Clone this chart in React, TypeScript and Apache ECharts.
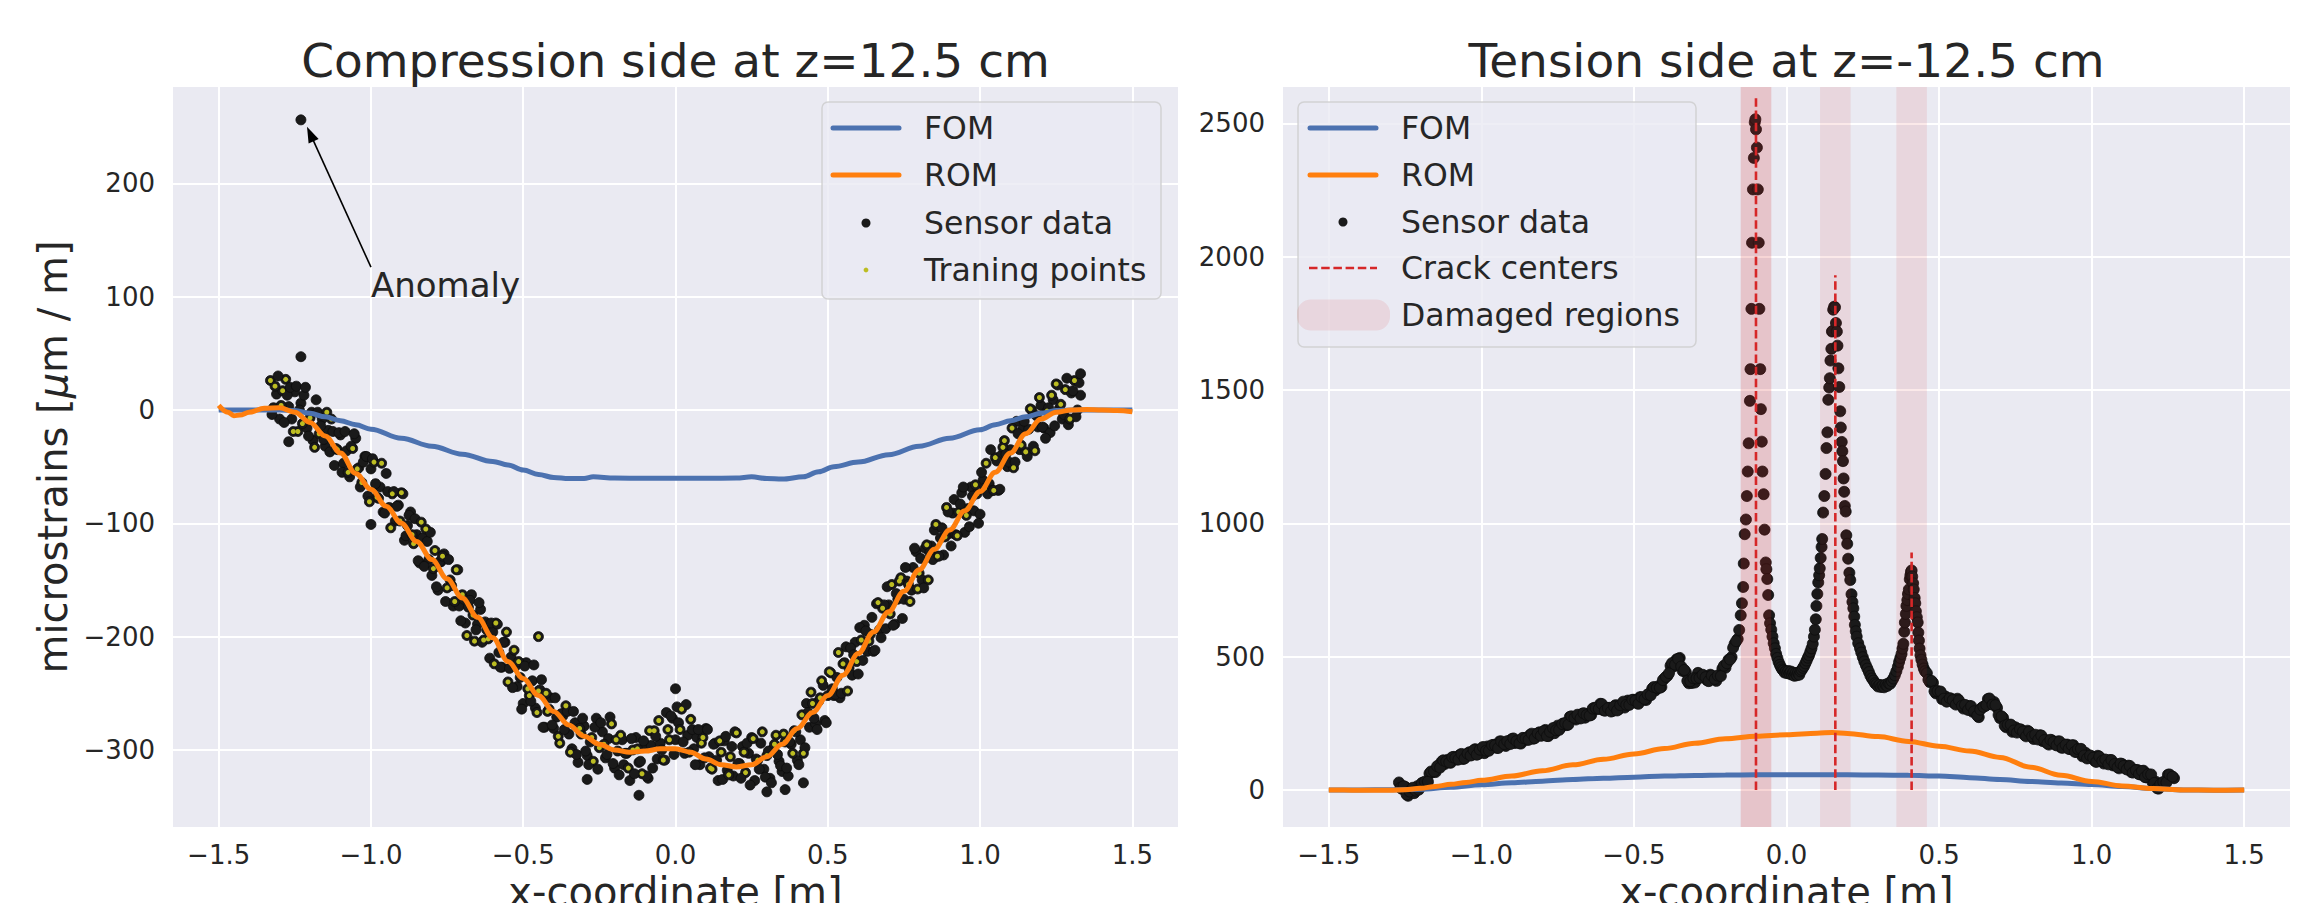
import React, { useEffect, useRef } from "react";
import * as echarts from "echarts";

type P = [number, number];

const W = 2314;
const H = 903;
const FONT = "DejaVu Sans";
const TEXT = "#262626";
const BLUE = "#4c72b0";
const ORANGE = "#ff7f0e";
const OLIVE = "#bcbd22";
const RED = "#d62728";
const DOT = "#1a1a1a";
const BG = "#eaeaf2";

// ---------------- texts ----------------
const titles = ["Compression side at z=12.5 cm", "Tension side at z=-12.5 cm"];
const xLabel = "x-coordinate [m]";
const yLabelParts = ["microstrains [", "\u03bc", "m / m]"];
const legendLeft = ["FOM", "ROM", "Sensor data", "Traning points"];
const legendRight = ["FOM", "ROM", "Sensor data", "Crack centers", "Damaged regions"];
const anomalyLabel = "Anomaly";

// ---------------- axes ----------------
const xRange = [-1.65, 1.65];
const leftYRange = [-368, 285];
const rightYRange = [-139, 2636];
const xTickStep = 0.5;
const leftYTickStep = 100;
const rightYTickStep = 500;

// ---------------- left panel (compression) ----------------
const leftFOM: P[] = [
  [-1.5, 0], [-1.4, 0], [-1.3, 0], [-1.25, -0.5], [-1.2, -3], [-1.15, -6], [-1.1, -9.5], [-1.05, -13],
  [-1.0, -17], [-0.9, -25], [-0.8, -32], [-0.7, -39], [-0.6, -45.5], [-0.55, -48.5], [-0.5, -53],
  [-0.45, -57], [-0.4, -59.5], [-0.35, -60.5], [-0.3, -60.5], [-0.27, -59], [-0.2, -60], [-0.1, -60.3],
  [0, -60.3], [0.1, -60.3], [0.2, -60], [0.25, -59], [0.3, -60.5], [0.35, -61], [0.42, -59], [0.47, -54.5],
  [0.52, -50], [0.6, -46], [0.7, -39.5], [0.8, -32], [0.9, -25], [1.0, -17.5], [1.05, -13], [1.1, -9.5],
  [1.15, -6], [1.2, -3], [1.25, -0.5], [1.3, 0], [1.4, 0], [1.5, 0],
];

const leftROM: P[] = [
  [-1.5, 4], [-1.47, -2], [-1.45, -5], [-1.43, -4.5], [-1.4, -2], [-1.35, 1.5], [-1.3, 2], [-1.25, -2],
  [-1.2, -11], [-1.15, -23], [-1.1, -38], [-1.05, -56], [-1.0, -70], [-0.95, -85], [-0.9, -100],
  [-0.85, -116], [-0.8, -132], [-0.75, -149], [-0.7, -166], [-0.65, -183], [-0.6, -201], [-0.55, -222],
  [-0.5, -237], [-0.45, -252], [-0.4, -266], [-0.35, -278], [-0.3, -288], [-0.25, -295], [-0.2, -300],
  [-0.15, -302], [-0.1, -301], [-0.05, -299], [0, -299], [0.05, -302], [0.1, -308], [0.15, -313],
  [0.2, -315], [0.25, -313], [0.3, -306], [0.35, -295], [0.4, -281], [0.45, -267], [0.5, -252],
  [0.55, -234], [0.6, -215], [0.65, -196], [0.7, -178], [0.75, -160], [0.8, -141], [0.85, -123],
  [0.9, -106], [0.95, -89], [1.0, -72], [1.05, -55], [1.1, -38], [1.15, -21], [1.2, -8], [1.25, -2],
  [1.3, 0], [1.35, 0.5], [1.4, 0], [1.45, -0.5], [1.5, -1.5],
];

// sensor readings, first pass of gauges
const leftSensorA: P[] = [
  [-1.33, 26], [-1.32, 2], [-1.31, 14], [-1.30, -8], [-1.29, 17], [-1.28, 27], [-1.27, 3], [-1.26, -8], [-1.25, 16], [-1.24, -19],
  [-1.23, 6], [-1.22, 13], [-1.21, -16], [-1.20, -7], [-1.19, -27], [-1.18, 9], [-1.17, -21], [-1.16, -8], [-1.15, -32], [-1.14, -18],
  [-1.13, -8], [-1.12, -49], [-1.11, -35], [-1.10, -22], [-1.09, -47], [-1.08, -36], [-1.07, -59], [-1.06, -34], [-1.05, -25], [-1.04, -51],
  [-1.03, -64], [-1.02, -41], [-1.01, -76], [-1.00, -52], [-0.99, -46], [-0.98, -77], [-0.97, -68], [-0.96, -90], [-0.95, -56], [-0.94, -86],
  [-0.93, -74], [-0.92, -98], [-0.91, -84], [-0.90, -73], [-0.89, -115], [-0.88, -102], [-0.87, -90], [-0.86, -118], [-0.85, -110], [-0.84, -135],
  [-0.83, -113], [-0.82, -105], [-0.81, -132], [-0.80, -146], [-0.79, -124], [-0.78, -159], [-0.77, -134], [-0.76, -127], [-0.75, -157], [-0.74, -150],
  [-0.73, -173], [-0.72, -141], [-0.71, -173], [-0.70, -163], [-0.69, -188], [-0.68, -174], [-0.67, -163], [-0.66, -204], [-0.65, -189], [-0.64, -176],
  [-0.63, -203], [-0.62, -194], [-0.61, -219], [-0.60, -196], [-0.59, -188], [-0.58, -214], [-0.57, -227], [-0.56, -205], [-0.55, -240], [-0.54, -218],
  [-0.53, -212], [-0.52, -244], [-0.51, -236], [-0.50, -259], [-0.49, -223], [-0.48, -252], [-0.47, -239], [-0.46, -263], [-0.45, -248], [-0.44, -238],
  [-0.43, -280], [-0.42, -266], [-0.41, -254], [-0.40, -281], [-0.39, -271], [-0.38, -294], [-0.37, -270], [-0.36, -261], [-0.35, -286], [-0.34, -299],
  [-0.33, -276], [-0.32, -311], [-0.31, -286], [-0.30, -279], [-0.29, -305], [-0.28, -293], [-0.27, -310], [-0.26, -272], [-0.25, -298], [-0.24, -284],
  [-0.23, -307], [-0.22, -290], [-0.21, -277], [-0.20, -316], [-0.19, -301], [-0.18, -287], [-0.17, -313], [-0.16, -303], [-0.15, -327], [-0.14, -300],
  [-0.13, -289], [-0.12, -311], [-0.11, -321], [-0.10, -295], [-0.09, -325], [-0.08, -296], [-0.07, -283], [-0.06, -308], [-0.05, -294], [-0.04, -309],
  [-0.03, -267], [-0.02, -291], [-0.01, -272], [0.00, -291], [0.01, -276], [0.02, -264], [0.03, -303], [0.04, -287], [0.05, -273], [0.06, -299],
  [0.07, -289], [0.08, -313], [0.09, -289], [0.10, -281], [0.11, -306], [0.12, -317], [0.13, -294], [0.14, -327], [0.15, -302], [0.16, -292],
  [0.17, -318], [0.18, -306], [0.19, -323], [0.20, -285], [0.21, -312], [0.22, -297], [0.23, -320], [0.24, -303], [0.25, -289], [0.26, -327],
  [0.27, -309], [0.28, -294], [0.29, -317], [0.30, -305], [0.31, -325], [0.32, -299], [0.33, -287], [0.34, -310], [0.35, -319], [0.36, -293],
  [0.37, -323], [0.38, -295], [0.39, -283], [0.40, -309], [0.41, -291], [0.42, -303], [0.43, -259], [0.44, -280], [0.45, -259], [0.46, -277],
  [0.47, -257], [0.48, -239], [0.49, -274], [0.50, -252], [0.51, -232], [0.52, -252], [0.53, -236], [0.54, -254], [0.55, -224], [0.56, -209],
  [0.57, -228], [0.58, -234], [0.59, -205], [0.60, -233], [0.61, -203], [0.62, -190], [0.63, -213], [0.64, -198], [0.65, -213], [0.66, -171],
  [0.67, -194], [0.68, -175], [0.69, -193], [0.70, -172], [0.71, -154], [0.72, -189], [0.73, -167], [0.74, -148], [0.75, -167], [0.76, -151],
  [0.77, -169], [0.78, -139], [0.79, -125], [0.80, -144], [0.81, -150], [0.82, -122], [0.83, -150], [0.84, -120], [0.85, -106], [0.86, -129],
  [0.87, -113], [0.88, -128], [0.89, -86], [0.90, -109], [0.91, -91], [0.92, -110], [0.93, -90], [0.94, -73], [0.95, -108], [0.96, -87],
  [0.97, -68], [0.98, -89], [0.99, -74], [1.00, -92], [1.01, -62], [1.02, -47], [1.03, -65], [1.04, -71], [1.05, -42], [1.06, -71],
  [1.07, -40], [1.08, -27], [1.09, -50], [1.10, -35], [1.11, -51], [1.12, -10], [1.13, -35], [1.14, -17], [1.15, -37], [1.16, -17],
  [1.17, 0], [1.18, -36], [1.19, -15], [1.20, 4], [1.21, -16], [1.22, -1], [1.23, -20], [1.24, 9], [1.25, 23], [1.26, 1],
  [1.27, -8], [1.28, 18], [1.29, -13], [1.30, 15], [1.31, 26], [1.32, 0], [1.33, 13],
];

// sensor readings, gauges in between
const leftSensorB: P[] = [
  [-1.325, -4], [-1.315, 21], [-1.305, 30], [-1.295, 4], [-1.285, -11], [-1.275, 13], [-1.265, 20], [-1.255, -19], [-1.245, 21], [-1.235, 0],
  [-1.225, -12], [-1.215, 20], [-1.205, -23], [-1.195, -2], [-1.185, -33], [-1.175, -2], [-1.165, -14], [-1.155, -26], [-1.145, -2], [-1.135, -37],
  [-1.125, -19], [-1.115, -34], [-1.105, -20], [-1.095, -55], [-1.085, -19], [-1.075, -55], [-1.065, -32], [-1.055, -21], [-1.045, -52], [-1.035, -68],
  [-1.025, -46], [-1.015, -41], [-1.005, -81], [-0.995, -43], [-0.985, -65], [-0.975, -78], [-0.965, -47], [-0.955, -91], [-0.945, -72], [-0.935, -104],
  [-0.925, -72], [-0.915, -85], [-0.905, -98], [-0.895, -74], [-0.885, -111], [-0.875, -93], [-0.865, -110], [-0.855, -96], [-0.845, -133], [-0.835, -99],
  [-0.825, -138], [-0.815, -116], [-0.805, -108], [-0.795, -140], [-0.785, -156], [-0.775, -134], [-0.765, -129], [-0.755, -169], [-0.745, -132], [-0.735, -155],
  [-0.725, -169], [-0.715, -141], [-0.705, -186], [-0.695, -167], [-0.685, -199], [-0.675, -168], [-0.665, -181], [-0.655, -194], [-0.645, -170], [-0.635, -205],
  [-0.625, -187], [-0.615, -202], [-0.605, -188], [-0.595, -224], [-0.585, -189], [-0.575, -227], [-0.565, -205], [-0.555, -196], [-0.545, -228], [-0.535, -245],
  [-0.525, -226], [-0.515, -222], [-0.505, -264], [-0.495, -226], [-0.485, -246], [-0.475, -257], [-0.465, -225], [-0.455, -267], [-0.445, -247], [-0.435, -280],
  [-0.425, -250], [-0.415, -264], [-0.405, -278], [-0.395, -254], [-0.385, -288], [-0.375, -268], [-0.365, -282], [-0.355, -266], [-0.345, -302], [-0.335, -266],
  [-0.325, -304], [-0.315, -281], [-0.305, -272], [-0.295, -301], [-0.285, -313], [-0.275, -289], [-0.265, -280], [-0.255, -317], [-0.245, -276], [-0.235, -295],
  [-0.225, -304], [-0.215, -271], [-0.205, -312], [-0.195, -291], [-0.185, -322], [-0.175, -291], [-0.165, -303], [-0.155, -316], [-0.145, -290], [-0.135, -321],
  [-0.125, -299], [-0.115, -310], [-0.105, -292], [-0.095, -323], [-0.085, -283], [-0.075, -316], [-0.065, -288], [-0.055, -274], [-0.045, -300], [-0.035, -309],
  [-0.025, -282], [-0.015, -270], [-0.005, -304], [0.005, -262], [0.015, -282], [0.025, -293], [0.035, -260], [0.045, -302], [0.055, -282], [0.065, -313],
  [0.075, -282], [0.085, -294], [0.095, -307], [0.105, -282], [0.115, -316], [0.125, -295], [0.135, -309], [0.145, -292], [0.155, -326], [0.165, -288],
  [0.175, -322], [0.185, -297], [0.195, -284], [0.205, -312], [0.215, -325], [0.225, -302], [0.235, -294], [0.245, -331], [0.255, -290], [0.265, -308],
  [0.275, -317], [0.285, -284], [0.295, -324], [0.305, -301], [0.315, -329], [0.325, -295], [0.335, -304], [0.345, -314], [0.355, -286], [0.365, -316],
  [0.375, -293], [0.385, -303], [0.395, -284], [0.405, -313], [0.415, -269], [0.425, -298], [0.435, -267], [0.445, -249], [0.455, -272], [0.465, -282],
  [0.475, -254], [0.485, -243], [0.495, -276], [0.505, -231], [0.515, -246], [0.525, -251], [0.535, -214], [0.545, -250], [0.555, -223], [0.565, -248],
  [0.575, -210], [0.585, -216], [0.595, -222], [0.605, -192], [0.615, -221], [0.625, -195], [0.635, -204], [0.645, -183], [0.655, -212], [0.665, -170],
  [0.675, -201], [0.685, -172], [0.695, -156], [0.705, -180], [0.715, -190], [0.725, -162], [0.735, -151], [0.745, -184], [0.755, -139], [0.765, -154],
  [0.775, -159], [0.785, -122], [0.795, -158], [0.805, -131], [0.815, -157], [0.825, -119], [0.835, -126], [0.845, -132], [0.855, -101], [0.865, -129],
  [0.875, -104], [0.885, -112], [0.895, -90], [0.905, -120], [0.915, -79], [0.925, -111], [0.935, -83], [0.945, -68], [0.955, -93], [0.965, -103],
  [0.975, -76], [0.985, -66], [0.995, -100], [1.005, -55], [1.015, -69], [1.025, -74], [1.035, -35], [1.045, -71], [1.055, -45], [1.065, -70],
  [1.075, -33], [1.085, -39], [1.095, -46], [1.105, -16], [1.115, -46], [1.125, -21], [1.135, -31], [1.145, -10], [1.155, -41], [1.165, 1],
  [1.175, -32], [1.185, -5], [1.195, 11], [1.205, -15], [1.215, -25], [1.225, 2], [1.235, 13], [1.245, -14], [1.255, 22], [1.265, 5],
  [1.275, -4], [1.285, 28], [1.295, -8], [1.305, 17], [1.315, -6], [1.325, 24],
];

// isolated readings; index 0 is the anomaly
const leftIsolated: P[] = [
  [-1.23, 256], [-1.23, 47], [-1.27, -28], [1.33, 32], [0.00, -246], [-0.12, -340], [-0.29, -326], [0.30, -337],
  [0.36, -335], [-0.45, -200], [-1.00, -101], [0.42, -329],
];

const trainingIdxA = [
  0, 4, 5, 9, 13, 16, 20, 22, 27, 30, 34, 35, 40, 43, 47, 51, 54, 58, 61, 63, 67, 70, 74, 78, 80, 85, 88, 91, 95, 97,
  102, 106, 108, 112, 115, 119, 122, 126, 129, 131, 135, 138, 142, 145, 148, 151, 153, 156, 160, 163, 166, 169, 172,
  175, 178, 181, 184, 188, 190, 194, 197, 201, 204, 207, 210, 213, 216, 219, 222, 226, 229, 232, 235, 238, 241, 244,
  248, 251, 255, 258, 261, 264,
];
const trainingIdxB = [
  1, 3, 7, 10, 14, 18, 21, 25, 28, 32, 36, 39, 42, 46, 49, 53, 56, 60, 64, 66, 71, 73, 77, 81, 84, 87, 90, 94, 98, 101,
  105, 109, 113, 117, 120, 124, 127, 130, 134, 137, 141, 144, 147, 150, 155, 158, 161, 165, 168, 171, 174, 177, 180,
  183, 186, 189, 192, 196, 199, 203, 206, 209, 212, 215, 218, 221, 225, 228, 231, 234, 237, 240, 243, 246, 249, 252,
  256, 259, 262,
];
const trainingIdxIsolated = [9];

const anomalyTextPos: P = [-1.0, 100];
const anomalyArrow: P[] = [[-1.0, 126], [-1.21, 250]];

// ---------------- right panel (tension) ----------------
const rightFOM: P[] = [
  [-1.5, 0], [-1.4, 0], [-1.3, 0.5], [-1.2, 3], [-1.1, 10], [-1.0, 19], [-0.9, 27], [-0.8, 33], [-0.7, 39],
  [-0.6, 44], [-0.5, 48], [-0.4, 52], [-0.3, 54.5], [-0.2, 56], [-0.1, 56.5], [0, 56.5], [0.1, 56.5],
  [0.2, 56.5], [0.3, 56], [0.4, 55], [0.5, 52], [0.6, 46], [0.7, 39], [0.8, 32], [0.9, 26], [1.0, 20],
  [1.1, 13], [1.2, 5], [1.3, 0], [1.4, -1], [1.5, 0],
];

const rightROM: P[] = [
  [-1.5, 0], [-1.45, -0.5], [-1.4, -1], [-1.35, -1.5], [-1.3, -1], [-1.25, 1], [-1.2, 6], [-1.15, 13],
  [-1.1, 21], [-1.05, 28], [-1.0, 36], [-0.9, 52], [-0.8, 72], [-0.7, 94], [-0.6, 115], [-0.5, 135],
  [-0.4, 155], [-0.3, 175], [-0.2, 192], [-0.1, 201], [0, 207], [0.1, 213], [0.15, 215], [0.2, 212],
  [0.3, 200], [0.4, 182], [0.5, 164], [0.6, 146], [0.7, 122], [0.8, 85], [0.9, 55], [1.0, 32], [1.1, 15],
  [1.2, 5], [1.3, 0], [1.4, -1], [1.5, 0],
];

const rightSensorA: P[] = [
  [-1.27, 28], [-1.26, 4], [-1.25, 12], [-1.24, -22], [-1.23, -5], [-1.22, -12], [-1.21, 14], [-1.20, 12], [-1.19, 28], [-1.18, 26],
  [-1.17, 62], [-1.16, 66], [-1.15, 67], [-1.14, 92], [-1.13, 106], [-1.12, 97], [-1.11, 113], [-1.10, 102], [-1.09, 124], [-1.08, 114],
  [-1.07, 132], [-1.06, 116], [-1.05, 133], [-1.04, 141], [-1.03, 132], [-1.02, 153], [-1.01, 135], [-1.00, 151], [-0.99, 138], [-0.98, 163],
  [-0.97, 155], [-0.96, 169], [-0.95, 158], [-0.94, 182], [-0.93, 171], [-0.92, 165], [-0.91, 182], [-0.90, 191], [-0.89, 176], [-0.88, 185],
  [-0.87, 174], [-0.86, 195], [-0.85, 188], [-0.84, 207], [-0.83, 192], [-0.82, 210], [-0.81, 216], [-0.80, 205], [-0.79, 225], [-0.78, 202],
  [-0.77, 218], [-0.76, 213], [-0.75, 241], [-0.74, 233], [-0.73, 250], [-0.72, 243], [-0.71, 274], [-0.70, 268], [-0.69, 264], [-0.68, 280],
  [-0.67, 285], [-0.66, 271], [-0.65, 286], [-0.64, 281], [-0.63, 308], [-0.62, 304], [-0.61, 323], [-0.60, 299], [-0.59, 308], [-0.58, 308],
  [-0.57, 296], [-0.56, 318], [-0.55, 302], [-0.54, 319], [-0.53, 309], [-0.52, 335], [-0.51, 327], [-0.50, 338], [-0.49, 325], [-0.48, 348],
  [-0.47, 338], [-0.46, 337], [-0.45, 360], [-0.44, 380], [-0.43, 373], [-0.42, 389], [-0.41, 386], [-0.40, 418], [-0.39, 428], [-0.38, 466],
  [-0.37, 463], [-0.36, 490], [-0.35, 495], [-0.34, 446], [-0.33, 442], [-0.32, 400], [-0.31, 401], [-0.30, 403], [-0.29, 439], [-0.28, 425],
  [-0.27, 428], [-0.26, 411], [-0.25, 432], [-0.24, 416], [-0.23, 409], [-0.22, 429], [-0.21, 455], [-0.20, 458], [-0.19, 488], [-0.18, 498],
  [-0.17, 548], [-0.16, 566],
  // first crack
  [-0.155, 600], [-0.150, 655], [-0.146, 700], [-0.142, 761], [-0.140, 849], [-0.137, 959], [-0.133, 1014], [-0.130, 1102],
  [-0.127, 1194], [-0.124, 1300], [-0.120, 1459], [-0.118, 1578], [-0.115, 1804], [-0.113, 2052], [-0.110, 2252], [-0.107, 2370],
  [-0.104, 2503], [-0.102, 2515], [-0.100, 2477], [-0.097, 2409], [-0.094, 2252], [-0.091, 2052], [-0.089, 1804], [-0.086, 1578],
  [-0.084, 1428], [-0.081, 1306], [-0.079, 1194], [-0.075, 1109], [-0.072, 976], [-0.068, 853], [-0.066, 828], [-0.063, 791],
  [-0.060, 731], [-0.057, 655], [-0.054, 625], [-0.050, 601], [-0.046, 575], [-0.042, 550], [-0.038, 531], [-0.034, 510],
  [-0.030, 495], [-0.026, 480], [-0.022, 469], [-0.018, 460], [-0.014, 452], [-0.010, 448], [-0.006, 440], [-0.002, 445],
  [0.002, 438], [0.006, 446], [0.010, 436], [0.014, 444], [0.018, 432], [0.022, 440], [0.026, 428], [0.030, 438],
  [0.034, 430], [0.038, 440], [0.042, 432], [0.046, 445], [0.050, 450], [0.054, 458], [0.058, 465], [0.062, 475],
  [0.066, 485], [0.070, 496], [0.074, 505], [0.078, 518], [0.082, 531], [0.086, 548], [0.090, 575], [0.093, 601],
  // second crack
  [0.096, 640], [0.098, 690], [0.101, 735], [0.104, 778], [0.107, 805], [0.109, 831], [0.112, 870], [0.115, 911],
  [0.117, 941], [0.120, 1040], [0.124, 1102], [0.128, 1185], [0.131, 1282], [0.134, 1341], [0.137, 1463], [0.140, 1509],
  [0.142, 1544], [0.144, 1610], [0.147, 1654], [0.149, 1719], [0.151, 1721], [0.153, 1801], [0.156, 1812], [0.159, 1810],
  [0.162, 1751], [0.165, 1719], [0.167, 1666], [0.170, 1581], [0.173, 1511], [0.176, 1420], [0.178, 1359], [0.181, 1305],
  [0.183, 1270], [0.185, 1233], [0.187, 1168], [0.189, 1118], [0.191, 1065], [0.194, 1044], [0.196, 955], [0.199, 923],
  [0.202, 867], [0.206, 814], [0.209, 787], [0.213, 734], [0.216, 705], [0.219, 681], [0.222, 650], [0.224, 619],
  [0.227, 595], [0.230, 575], [0.235, 550], [0.241, 531], [0.245, 515], [0.250, 498], [0.255, 482], [0.260, 468],
  [0.265, 455], [0.270, 442], [0.275, 428], [0.280, 418], [0.285, 410], [0.290, 400], [0.295, 396], [0.300, 388],
  [0.305, 394], [0.310, 386], [0.315, 392], [0.320, 385], [0.325, 395], [0.330, 390], [0.335, 400], [0.340, 398],
  [0.345, 408], [0.350, 418], [0.355, 430], [0.360, 445], [0.365, 462], [0.369, 480], [0.373, 495], [0.377, 510],
  // third crack
  [0.380, 530], [0.383, 548], [0.386, 593], [0.388, 628], [0.391, 660], [0.393, 690], [0.396, 712], [0.398, 735],
  [0.401, 752], [0.404, 790], [0.406, 805], [0.408, 818], [0.410, 823], [0.412, 800], [0.415, 775], [0.417, 752],
  [0.420, 720], [0.422, 700], [0.424, 670], [0.427, 648], [0.430, 628], [0.432, 590], [0.434, 560], [0.436, 530],
  [0.439, 505], [0.442, 488], [0.446, 470], [0.450, 455], [0.454, 445],
  // decay towards the right support
  [0.46, 438], [0.47, 404], [0.48, 402], [0.49, 362], [0.50, 365], [0.51, 340], [0.52, 351], [0.53, 335], [0.54, 342], [0.55, 325],
  [0.56, 342], [0.57, 320], [0.58, 305], [0.59, 314], [0.60, 315], [0.61, 293], [0.62, 293], [0.63, 273], [0.64, 308], [0.65, 314],
  [0.66, 341], [0.67, 323], [0.68, 330], [0.69, 308], [0.70, 269], [0.71, 270], [0.72, 235], [0.73, 239], [0.74, 218], [0.75, 235],
  [0.76, 219], [0.77, 225], [0.78, 206], [0.79, 222], [0.80, 203], [0.81, 191], [0.82, 203], [0.83, 205], [0.84, 183], [0.85, 187],
  [0.86, 170], [0.87, 186], [0.88, 171], [0.89, 182], [0.90, 159], [0.91, 170], [0.92, 170], [0.93, 153], [0.94, 168], [0.95, 142],
  [0.96, 148], [0.97, 126], [0.98, 139], [0.99, 121], [1.00, 126], [1.01, 109], [1.02, 128], [1.03, 111], [1.04, 99], [1.05, 110],
  [1.06, 112], [1.07, 92], [1.08, 97], [1.09, 81], [1.10, 97], [1.11, 81], [1.12, 91], [1.13, 67], [1.14, 76], [1.15, 75],
  [1.16, 58], [1.17, 72], [1.18, 47], [1.19, 55], [1.20, 28], [1.21, 31], [1.22, 5], [1.23, 26], [1.24, 26], [1.25, 57],
  [1.26, 48], [1.27, 44],
];

// gauges in between (undamaged stretches)
const rightSensorB: P[] = [
  [-1.265, 8], [-1.255, 14], [-1.245, -17], [-1.235, -6], [-1.225, 8], [-1.215, -3], [-1.205, 1], [-1.195, 26], [-1.185, 31], [-1.175, 31],
  [-1.165, 69], [-1.155, 70], [-1.145, 89], [-1.135, 84], [-1.125, 111], [-1.115, 107], [-1.105, 103], [-1.095, 123], [-1.085, 120], [-1.075, 114],
  [-1.065, 135], [-1.055, 118], [-1.045, 136], [-1.035, 129], [-1.025, 149], [-1.015, 132], [-1.005, 151], [-0.995, 161], [-0.985, 147], [-0.975, 147],
  [-0.965, 168], [-0.955, 167], [-0.945, 157], [-0.935, 182], [-0.925, 172], [-0.915, 183], [-0.905, 172], [-0.895, 193], [-0.885, 183], [-0.875, 175],
  [-0.865, 195], [-0.855, 193], [-0.845, 188], [-0.835, 211], [-0.825, 194], [-0.815, 212], [-0.805, 203], [-0.795, 221], [-0.785, 202], [-0.775, 218],
  [-0.765, 232], [-0.755, 224], [-0.745, 225], [-0.735, 247], [-0.725, 250], [-0.715, 245], [-0.705, 276], [-0.695, 270], [-0.685, 282], [-0.675, 268],
  [-0.665, 288], [-0.655, 281], [-0.645, 279], [-0.635, 305], [-0.625, 307], [-0.615, 304], [-0.605, 322], [-0.595, 297], [-0.585, 307], [-0.575, 294],
  [-0.565, 313], [-0.555, 298], [-0.545, 318], [-0.535, 331], [-0.525, 319], [-0.515, 319], [-0.505, 338], [-0.495, 335], [-0.485, 323], [-0.475, 348],
  [-0.465, 341], [-0.455, 358], [-0.445, 355], [-0.435, 386], [-0.425, 383], [-0.415, 383], [-0.405, 412], [-0.395, 424], [-0.385, 438], [-0.375, 476],
  [-0.365, 470], [-0.355, 491], [-0.345, 463], [-0.335, 450], [-0.325, 409], [-0.315, 408], [-0.305, 419], [-0.295, 418], [-0.285, 420], [-0.275, 432],
  [-0.265, 423], [-0.255, 408], [-0.245, 429], [-0.235, 416], [-0.225, 429], [-0.215, 427], [-0.205, 466], [-0.195, 475], [-0.185, 489], [-0.175, 533],
  [-0.165, 558],
  [0.465, 413], [0.475, 409], [0.485, 370], [0.495, 371], [0.505, 369], [0.515, 342], [0.525, 331], [0.535, 344], [0.545, 337], [0.555, 320],
  [0.565, 336], [0.575, 316], [0.585, 319], [0.595, 300], [0.605, 314], [0.615, 295], [0.625, 279], [0.635, 301], [0.645, 312], [0.655, 318],
  [0.665, 343], [0.675, 320], [0.685, 318], [0.695, 281], [0.705, 276], [0.715, 241], [0.725, 245], [0.735, 245], [0.745, 223], [0.755, 215],
  [0.765, 228], [0.775, 219], [0.785, 201], [0.795, 218], [0.805, 201], [0.815, 207], [0.825, 189], [0.835, 204], [0.845, 187], [0.855, 174],
  [0.865, 188], [0.875, 180], [0.885, 167], [0.895, 182], [0.905, 158], [0.915, 169], [0.925, 154], [0.935, 167], [0.945, 143], [0.955, 153],
  [0.965, 154], [0.975, 129], [0.985, 118], [0.995, 129], [1.005, 121], [1.015, 105], [1.025, 125], [1.035, 109], [1.045, 114], [1.055, 96],
  [1.065, 112], [1.075, 97], [1.085, 85], [1.095, 99], [1.105, 90], [1.115, 77], [1.125, 90], [1.135, 65], [1.145, 74], [1.155, 59],
  [1.165, 71], [1.175, 48], [1.185, 59], [1.195, 58], [1.205, 26], [1.215, 6], [1.225, 21], [1.235, 30], [1.245, 28], [1.255, 58],
  [1.265, 50],
];

const crackCenters = [-0.1, 0.16, 0.41];
const crackTops = [2600, 1930, 890];
// the first damaged region is listed twice in the source plot (overlapping spans)
const damagedRegions: P[] = [[-0.15, -0.05], [-0.15, -0.05], [0.11, 0.21], [0.36, 0.46]];

// ---------------- layout ----------------
const GRIDS = [
  { left: 173, top: 87, width: 1005, height: 740 },
  { left: 1283, top: 87, width: 1007, height: 740 },
];
const LINE_W = 5;

const minus = (s: string) => s.replace("-", "\u2212");
const tickFmt = (step: number, digits: number) => (v: number) => {
  const k = v / step;
  if (Math.abs(k - Math.round(k)) > 1e-6) return "";
  return minus(v.toFixed(digits));
};

function xAxis(gridIndex: number) {
  return {
    type: "value",
    gridIndex,
    min: xRange[0],
    max: xRange[1],
    axisLine: { show: false },
    axisTick: { show: false },
    splitLine: { show: true, showMinLine: false, showMaxLine: false, lineStyle: { color: "#ffffff", width: 2 } },
    axisLabel: {
      show: true,
      showMinLabel: false,
      showMaxLabel: false,
      margin: 15,
      fontSize: 26,
      fontFamily: FONT,
      color: TEXT,
      formatter: tickFmt(xTickStep, 1),
    },
  };
}

function yAxis(gridIndex: number, range: number[], step: number) {
  return {
    type: "value",
    gridIndex,
    min: range[0],
    max: range[1],
    axisLine: { show: false },
    axisTick: { show: false },
    splitLine: { show: true, showMinLine: false, showMaxLine: false, lineStyle: { color: "#ffffff", width: 2 } },
    axisLabel: {
      show: true,
      showMinLabel: false,
      showMaxLabel: false,
      margin: 18,
      fontSize: 26,
      fontFamily: FONT,
      color: TEXT,
      formatter: tickFmt(step, 0),
    },
  };
}

function lineSeries(name: string, data: P[], color: string, idx: number, z: number) {
  return {
    name,
    type: "line",
    xAxisIndex: idx,
    yAxisIndex: idx,
    data,
    symbol: "none",
    smooth: 0.35,
    smoothMonotone: "x",
    z,
    lineStyle: { color, width: LINE_W },
    itemStyle: { color },
    emphasis: { disabled: true },
    silent: true,
  };
}

function scatterSeries(name: string, data: P[], idx: number, size: number, color: string, z: number, border?: string) {
  return {
    name,
    type: "scatter",
    xAxisIndex: idx,
    yAxisIndex: idx,
    data,
    symbol: "circle",
    symbolSize: size,
    z,
    itemStyle: border ? { color, borderColor: border, borderWidth: 0.8, opacity: 1 } : { color, opacity: 1 },
    emphasis: { disabled: true },
    silent: true,
  };
}

function buildOption() {
  const leftSensor = [...leftSensorA, ...leftSensorB, ...leftIsolated];
  const training = [
    ...trainingIdxA.map((i) => leftSensorA[i]),
    ...trainingIdxB.map((i) => leftSensorB[i]),
    ...trainingIdxIsolated.map((i) => leftIsolated[i]),
  ];
  return {
    animation: false,
    backgroundColor: "#ffffff",
    grid: GRIDS.map((g) => ({ ...g, show: true, backgroundColor: BG, borderWidth: 0, containLabel: false })),
    xAxis: [xAxis(0), xAxis(1)],
    yAxis: [yAxis(0, leftYRange, leftYTickStep), yAxis(1, rightYRange, rightYTickStep)],
    series: [
      scatterSeries("Sensor data", leftSensor, 0, 10, DOT, 2, "#0d0d0d"),
      scatterSeries("Traning points", training, 0, 5, OLIVE, 3),
      lineSeries("FOM", leftFOM, BLUE, 0, 4),
      lineSeries("ROM", leftROM, ORANGE, 0, 5),

      scatterSeries("Sensor data R", [...rightSensorA, ...rightSensorB], 1, 11, DOT, 2, "#0d0d0d"),
      {
        name: "Damaged regions",
        type: "custom",
        xAxisIndex: 1,
        yAxisIndex: 1,
        data: damagedRegions,
        z: 3,
        silent: true,
        renderItem: (params: any, api: any) => {
          const p0 = api.coord([api.value(0), 0]);
          const p1 = api.coord([api.value(1), 0]);
          const cs = params.coordSys;
          return {
            type: "rect",
            shape: { x: p0[0], y: cs.y, width: p1[0] - p0[0], height: cs.height },
            style: { fill: "rgba(214,39,40,0.1)" },
          };
        },
      },
      lineSeries("FOM R", rightFOM, BLUE, 1, 4),
      lineSeries("ROM R", rightROM, ORANGE, 1, 5),
      {
        name: "Crack centers",
        type: "custom",
        xAxisIndex: 1,
        yAxisIndex: 1,
        data: crackCenters.map((c, i) => [c, crackTops[i]]),
        z: 6,
        silent: true,
        renderItem: (_params: any, api: any) => {
          const a = api.coord([api.value(0), 0]);
          const b = api.coord([api.value(0), api.value(1)]);
          return {
            type: "line",
            shape: { x1: a[0], y1: a[1], x2: b[0], y2: b[1] },
            style: { stroke: RED, lineWidth: 2.6, lineDash: [8.5, 3.7] },
          };
        },
      },
    ],
  };
}

function legendGraphics() {
  const els: any[] = [];
  const fontSize = 31.5;
  const txt = (x: number, y: number, s: string) => ({
    type: "text",
    x,
    y,
    z: 102,
    style: { text: s, fontSize, fontFamily: FONT, fill: TEXT, align: "left", verticalAlign: "middle" },
  });
  const box = (x: number, y: number, w: number, h: number) => ({
    type: "rect",
    z: 100,
    shape: { x, y, width: w, height: h, r: 6 },
    style: { fill: "rgba(234,234,242,0.8)", stroke: "rgba(204,204,204,0.8)", lineWidth: 1.5 },
  });
  const seg = (x1: number, x2: number, y: number, color: string, w: number, dash?: number[]) => ({
    type: "line",
    z: 101,
    shape: { x1, y1: y, x2, y2: y },
    style: { stroke: color, lineWidth: w, lineCap: dash ? "butt" : "round", lineDash: dash || null },
  });
  const dot = (cx: number, cy: number, r: number, color: string) => ({
    type: "circle",
    z: 101,
    shape: { cx, cy, r },
    style: { fill: color },
  });

  // left legend
  const lr = [128, 175, 223, 270];
  els.push(box(822, 102, 339, 197));
  els.push(seg(833, 899, lr[0], BLUE, LINE_W));
  els.push(seg(833, 899, lr[1], ORANGE, LINE_W));
  els.push(dot(866, lr[2], 4.5, DOT));
  els.push(dot(866, lr[3], 2.4, OLIVE));
  legendLeft.forEach((s, i) => els.push(txt(924, lr[i], s)));

  // right legend
  const rr = [128, 175, 222, 268, 315];
  els.push(box(1298, 102, 398, 245));
  els.push(seg(1310, 1376, rr[0], BLUE, LINE_W));
  els.push(seg(1310, 1376, rr[1], ORANGE, LINE_W));
  els.push(dot(1343, rr[2], 4.5, DOT));
  els.push(seg(1309, 1377, rr[3], RED, 2.6, [8.5, 3.7]));
  els.push({
    type: "rect",
    z: 101,
    shape: { x: 1297, y: rr[4] - 15.5, width: 93, height: 31, r: 14 },
    style: { fill: "rgba(214,39,40,0.1)" },
  });
  legendRight.forEach((s, i) => els.push(txt(1401, rr[i], s)));
  return els;
}

function textGraphics() {
  const els: any[] = [];
  GRIDS.forEach((g, i) => {
    const cx = g.left + g.width / 2;
    els.push({
      type: "text",
      x: cx,
      y: 60,
      z: 110,
      style: { text: titles[i], fontSize: 47, fontFamily: FONT, fill: TEXT, align: "center", verticalAlign: "middle" },
    });
    els.push({
      type: "text",
      x: cx,
      y: 892,
      z: 110,
      style: { text: xLabel, fontSize: 40, fontFamily: FONT, fill: TEXT, align: "center", verticalAlign: "middle" },
    });
  });
  const yl = GRIDS[0].top + GRIDS[0].height / 2;
  els.push({
    type: "text",
    x: 53,
    y: yl,
    rotation: Math.PI / 2,
    z: 110,
    style: {
      text: `{a|${yLabelParts[0]}}{b|${yLabelParts[1]}}{a|${yLabelParts[2]}}`,
      align: "center",
      verticalAlign: "middle",
      rich: {
        a: { fontSize: 40, fontFamily: FONT, fill: TEXT },
        b: { fontSize: 40, fontFamily: FONT, fill: TEXT, fontStyle: "italic" },
      },
    },
  });
  return els;
}

export default function App() {
  const ref = useRef<HTMLDivElement>(null);
  useEffect(() => {
    const el = ref.current;
    if (!el) return;
    const chart = echarts.init(el, null, { renderer: "svg", width: W, height: H });
    chart.setOption(buildOption() as any);

    const toPx = (p: P) => chart.convertToPixel({ xAxisIndex: 0, yAxisIndex: 0 } as any, p) as unknown as number[];
    const tp = toPx(anomalyTextPos);
    const a0 = toPx(anomalyArrow[0]);
    const a1 = toPx(anomalyArrow[1]);
    const dx = a1[0] - a0[0];
    const dy = a1[1] - a0[1];
    const len = Math.sqrt(dx * dx + dy * dy) || 1;
    const ux = dx / len;
    const uy = dy / len;
    const headL = 16;
    const headW = 5.5;
    const bx = a1[0] - ux * headL;
    const by = a1[1] - uy * headL;
    const nx = -uy;
    const ny = ux;

    const annot: any[] = [
      {
        type: "line",
        z: 90,
        shape: { x1: a0[0], y1: a0[1], x2: bx + ux * 2, y2: by + uy * 2 },
        style: { stroke: "#000000", lineWidth: 1.6 },
      },
      {
        type: "polygon",
        z: 91,
        shape: {
          points: [
            [a1[0], a1[1]],
            [bx + nx * headW, by + ny * headW],
            [bx - nx * headW, by - ny * headW],
          ],
        },
        style: { fill: "#000000" },
      },
      {
        type: "text",
        x: tp[0],
        y: tp[1] - 0.346 * 34,
        z: 92,
        style: { text: anomalyLabel, fontSize: 34, fontFamily: FONT, fill: TEXT, align: "left", verticalAlign: "middle" },
      },
    ];

    chart.setOption({ graphic: { elements: [...legendGraphics(), ...textGraphics(), ...annot] } } as any);
    return () => chart.dispose();
  }, []);
  return (
    <div
      ref={ref}
      style={{ position: "absolute", left: 0, top: 0, width: W, height: H, background: "#ffffff" }}
    />
  );
}
